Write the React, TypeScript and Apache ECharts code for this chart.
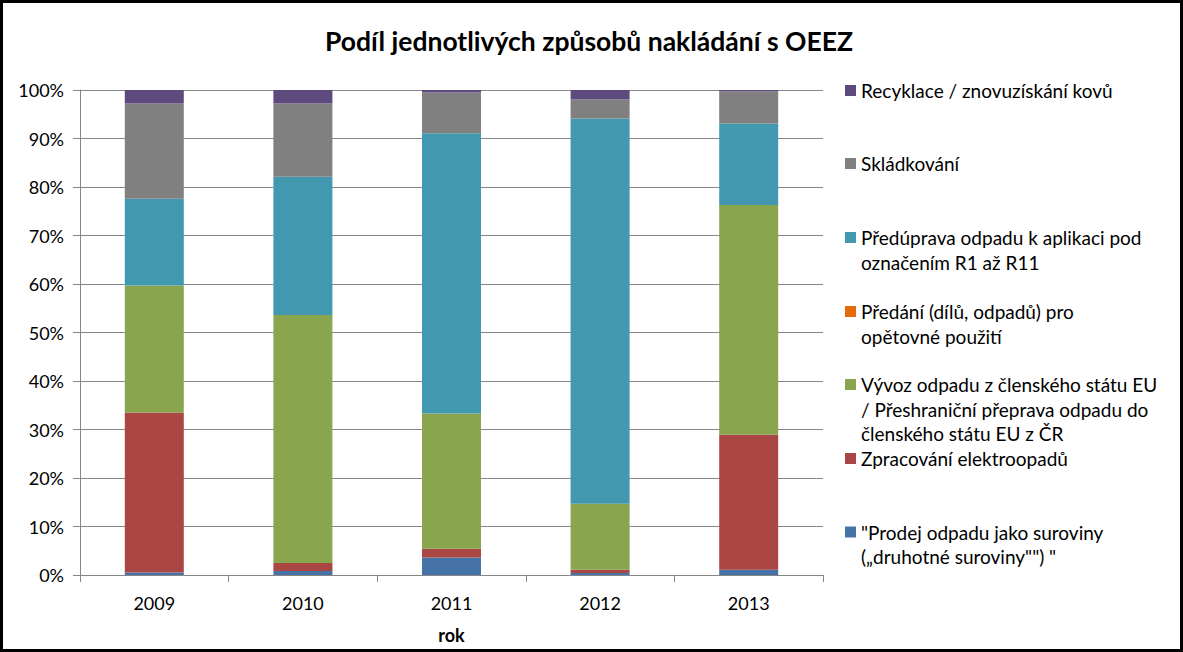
import React, { useEffect, useRef } from "react";
import * as echarts from "echarts";

const categories = ["2009", "2010", "2011", "2012", "2013"];

const seriesNames = [
  "\"Prodej odpadu jako suroviny\n(„druhotné suroviny\"\") \"",
  "Zpracování elektroopadů",
  "Vývoz odpadu z členského státu EU\n/ Přeshraniční přeprava odpadu do\nčlenského státu EU z ČR",
  "Předání (dílů, odpadů) pro\nopětovné použití",
  "Předúprava odpadu k aplikaci pod\noznačením R1 až R11",
  "Skládkování",
  "Recyklace / znovuzískání kovů",
];

const prodej = [0.5, 0.8, 3.6, 0.4, 1.1];
const zpracovani = [33.0, 1.7, 1.8, 0.7, 27.8];
const vyvoz = [26.2, 51.1, 27.9, 13.6, 47.4];
const predani = [0, 0, 0, 0, 0];
const preduprava = [17.9, 28.5, 57.8, 79.4, 16.8];
const skladkovani = [19.6, 15.1, 8.4, 4.0, 6.6];
const recyklace = [2.8, 2.8, 0.5, 1.9, 0.3];

const seriesValues = [prodej, zpracovani, vyvoz, predani, preduprava, skladkovani, recyklace];
const colors = ["#4572A7", "#AA4643", "#89A54E", "#E36C09", "#4298AF", "#808080", "#5F4A7E"];

const yTicks = [0, 10, 20, 30, 40, 50, 60, 70, 80, 90, 100];

// icon centre y for each legend entry (top to bottom = reverse series order)
const legendIconY = [532, 458.5, 384.5, 311.5, 237.5, 163.5, 90.5];

const FONT = "Lato, 'Open Sans', sans-serif";

export default function App() {
  const ref = useRef<HTMLDivElement>(null);
  useEffect(() => {
    if (!ref.current) return;
    const chart = echarts.init(ref.current, undefined, { renderer: "svg" });
    const lh = 24.5;
    const legends = seriesNames.map((name, i) => {
      const n = name.split("\n").length;
      const H = (2 * n - 1) * lh;
      const blanks = "\n".repeat(n - 1);
      return {
        data: [name],
        orient: "vertical",
        left: 845,
        top: legendIconY[i] - H / 2,
        padding: 0,
        itemWidth: 11,
        itemHeight: 11,
        itemGap: 0,
        icon: "rect",
        selectedMode: false,
        formatter: (nm: string) => blanks + nm,
        textStyle: {
          fontFamily: FONT,
          fontSize: 19,
          color: "#000",
          lineHeight: lh,
        },
      };
    });
    chart.setOption({
      animation: false,
      color: colors,
      title: {
        text: "Podíl jednotlivých způsobů nakládání s OEEZ",
        left: 584,
        textAlign: "center",
        top: 22,
        textStyle: { fontFamily: FONT, fontSize: 26.5, fontWeight: "bold", color: "#000" },
      },
      legend: legends,
      graphic: [
        {
          type: "rect",
          shape: { x: 1.5, y: 1.5, width: 1180, height: 649 },
          style: { fill: "none", stroke: "#000", lineWidth: 3 },
          silent: true,
        },
      ],
      grid: { left: 80, right: 360, top: 90, bottom: 77, containLabel: false },
      xAxis: {
        type: "category",
        data: categories,
        name: "rok",
        nameLocation: "middle",
        nameGap: 51,
        nameTextStyle: { fontFamily: FONT, fontSize: 18, fontWeight: "bold", color: "#000" },
        axisLine: { lineStyle: { color: "#868686", width: 1 } },
        axisTick: { show: true, length: 7, lineStyle: { color: "#868686" } },
        axisLabel: { fontFamily: FONT, fontSize: 18, color: "#000", margin: 19 },
      },
      yAxis: {
        type: "value",
        min: 0,
        max: 100,
        interval: 10,
        axisLine: { show: true, lineStyle: { color: "#868686", width: 1 } },
        axisTick: { show: true, length: 7, lineStyle: { color: "#868686" } },
        axisLabel: {
          fontFamily: FONT,
          fontSize: 18,
          color: "#000",
          margin: 16,
          formatter: (v: number) => (yTicks.includes(v) ? v + "%" : ""),
        },
        splitLine: { lineStyle: { color: "#868686", width: 1 } },
      },
      series: seriesNames.map((name, i) => ({
        name,
        type: "bar",
        stack: "total",
        barWidth: 59,
        data: seriesValues[i],
        itemStyle: { color: colors[i] },
      })),
    });
    return () => chart.dispose();
  }, []);
  return (
    <div
      ref={ref}
      style={{ position: "fixed", left: 0, top: 0, width: 1183, height: 652, background: "#fff" }}
    />
  );
}
